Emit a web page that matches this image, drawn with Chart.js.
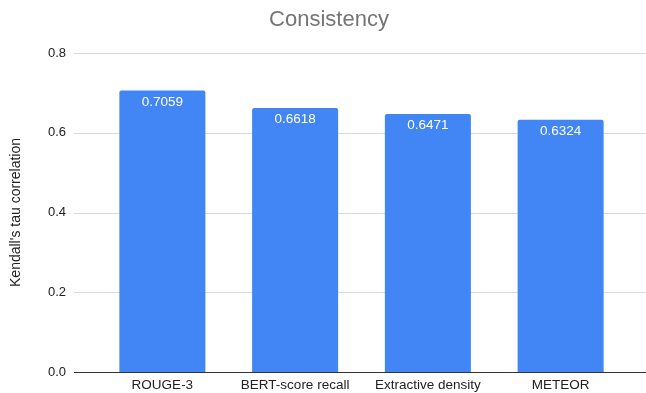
<!DOCTYPE html>
<html>
<head>
<meta charset="utf-8">
<script src="https://cdn.jsdelivr.net/npm/chart.js@4"></script>
<style>
  html, body { margin: 0; padding: 0; background: #fff; }
  #wrap { width: 646px; height: 393px; }
</style>
</head>
<body>
<div id="wrap"><canvas id="chart" width="646" height="393"></canvas></div>
<script>
var metrics = ['ROUGE-3', 'BERT-score recall', 'Extractive density', 'METEOR'];
var tauValues = [0.7059, 0.6618, 0.6471, 0.6324];
var yTicks = [0, 0.2, 0.4, 0.6, 0.8];

var FONT = 'Arial, "Liberation Sans", sans-serif';

// google-sheets style gridlines that run wider than the chart area
var wideGrid = {
    id: 'wideGrid',
    beforeDatasetsDraw: function(chart) {
        var c = chart.ctx;
        var y = chart.scales.y;
        c.save();
        yTicks.forEach(function(v) {
            var py = Math.round(y.getPixelForValue(v)) + 0.5;
            c.beginPath();
            c.strokeStyle = v === 0 ? '#333333' : '#d9d9d9';
            c.lineWidth = 1;
            c.moveTo(74, py);
            c.lineTo(chart.width, py);
            c.stroke();
        });
        c.restore();
    }
};

var barLabels = {
    id: 'barLabels',
    afterDatasetsDraw: function(chart) {
        var c = chart.ctx;
        var meta = chart.getDatasetMeta(0);
        c.save();
        c.fillStyle = '#ffffff';
        c.font = '13.5px ' + FONT;
        c.textAlign = 'center';
        c.textBaseline = 'middle';
        meta.data.forEach(function(bar, i) {
            c.fillText(tauValues[i].toFixed(4), bar.x, bar.y + 11.5);
        });
        c.restore();
    }
};

function noVertPadding(scale) {
    scale.paddingTop = 0;
    scale.paddingBottom = 0;
}

var ctx = document.getElementById('chart').getContext('2d');
var tauChart = new Chart(ctx, {
    type: 'bar',
    data: {
        labels: metrics,
        datasets: [{
            label: 'Consistency',
            data: tauValues,
            backgroundColor: '#4285f4',
            borderRadius: { topLeft: 2, topRight: 2 },
            borderSkipped: 'bottom',
            categoryPercentage: 1,
            barPercentage: 0.648
        }]
    },
    options: {
        responsive: false,
        animation: false,
        layout: { padding: { left: 12, right: 0, top: 0, bottom: 0 } },
        plugins: {
            legend: { display: false },
            tooltip: { enabled: false },
            title: {
                display: true,
                text: 'Consistency',
                color: '#757575',
                font: { family: FONT, size: 22, weight: 'normal' },
                padding: { top: 7, bottom: 19.6 }
            }
        },
        scales: {
            x: {
                afterFit: function(scale) { scale.height = 21; },
                grid: { display: false, drawTicks: false },
                border: { display: false },
                ticks: {
                    color: '#222222',
                    padding: 5,
                    maxRotation: 0,
                    autoSkip: false,
                    font: { family: FONT, size: 13.5 }
                }
            },
            y: {
                min: 0,
                max: 0.8,
                afterBuildTicks: function(scale) {
                    scale.ticks = yTicks.map(function(v) { return { value: v }; });
                },
                afterFit: function(scale) {
                    scale.width = 84;
                    noVertPadding(scale);
                },
                grid: { display: false, drawTicks: false },
                border: { display: false },
                ticks: {
                    color: '#222222',
                    padding: 30,
                    font: { family: FONT, size: 13 },
                    callback: function(v) { return Number(v).toFixed(1); }
                },
                title: {
                    display: true,
                    text: "Kendall's tau correlation",
                    color: '#222222',
                    padding: { top: -4, bottom: 4 },
                    font: { family: FONT, size: 14 }
                }
            },
            // empty strip on the right so the title centres like the original
            yRight: {
                position: 'right',
                afterFit: function(scale) {
                    scale.width = 19;
                    noVertPadding(scale);
                },
                grid: { display: false, drawTicks: false },
                border: { display: false },
                ticks: { display: false }
            }
        }
    },
    plugins: [wideGrid, barLabels]
});
</script>
</body>
</html>
